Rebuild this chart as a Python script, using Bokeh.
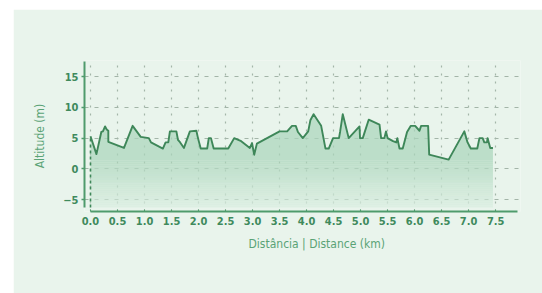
from bokeh.plotting import figure
from bokeh.models import FixedTicker, PrintfTickFormatter, Range1d, Spacer, Title
from bokeh.layouts import row, column
from bokeh.embed import file_html
from bokeh.resources import INLINE
import numpy as np

# ---- data ----
dist = [0.0, 0.11, 0.20, 0.23, 0.27, 0.30, 0.33, 0.33, 0.62, 0.78, 0.93, 1.08, 1.12,
        1.34, 1.39, 1.44, 1.47, 1.59, 1.62, 1.66, 1.73, 1.84, 1.96, 1.99, 2.04, 2.16,
        2.19, 2.23, 2.28, 2.55, 2.66, 2.79, 2.95, 2.99, 3.03, 3.08, 3.50, 3.64, 3.73,
        3.80, 3.84, 3.93, 4.03, 4.07, 4.13, 4.27, 4.35, 4.41, 4.49, 4.60, 4.62, 4.67,
        4.78, 4.98, 4.99, 5.04, 5.08, 5.15, 5.35, 5.38, 5.44, 5.47, 5.50, 5.60, 5.66,
        5.68, 5.72, 5.78, 5.86, 5.93, 6.01, 6.09, 6.12, 6.25, 6.27, 6.63, 6.92, 6.98,
        7.04, 7.16, 7.20, 7.26, 7.29, 7.34, 7.35, 7.40, 7.45]
alt = [5.3, 2.4, 6.0, 6.1, 6.9, 6.4, 6.2, 4.4, 3.4, 7.0, 5.2, 5.0, 4.3,
       3.3, 4.3, 4.3, 6.1, 6.1, 4.7, 4.3, 3.4, 6.1, 6.2, 5.0, 3.3, 3.3,
       5.0, 5.0, 3.3, 3.3, 5.0, 4.5, 3.4, 4.2, 2.3, 4.1, 6.1, 6.1, 7.0,
       7.0, 6.0, 5.0, 6.1, 7.9, 8.9, 7.0, 3.3, 3.3, 5.0, 5.0, 6.0, 8.9,
       5.0, 6.9, 5.0, 5.0, 6.1, 8.0, 7.2, 5.0, 5.0, 6.1, 5.0, 4.5, 4.3,
       5.0, 3.3, 3.3, 6.0, 7.0, 7.0, 6.2, 7.0, 7.0, 2.3, 1.5, 6.1, 4.3,
       3.3, 3.3, 5.0, 5.0, 4.3, 4.3, 5.0, 3.4, 3.4]

x_ticks = [0.0, 0.5, 1.0, 1.5, 2.0, 2.5, 3.0, 3.5, 4.0, 4.5, 5.0, 5.5, 6.0, 6.5, 7.0, 7.5]
y_ticks = [-5, 0, 5, 10, 15]
x_title = "Distância  |  Distance (km)"
y_title = "Altitude (m)"

BG = "#e9f4ec"
LINE = "#3e8759"
AXIS = "#4f9b6c"
TICKTXT = "#3f8a5c"
TITLETXT = "#5aa376"
GRID = "#a3b5a8"
FILL_TOP = np.array([0xab, 0xd6, 0xbb])
FILL_BOT = np.array([0xd9, 0xed, 0xe0])
FILL_ALPHA = 0.72
FONT = "DejaVu Sans Condensed"

y_floor = -6.3
y_bounds = (-6.3, 17.5)
x_bounds = (0.0, 7.9)

p = figure(width=529, height=284,
           x_range=Range1d(-0.111, 7.96), y_range=Range1d(-6.95, 17.64),
           output_backend="svg", toolbar_location=None,
           min_border_left=71, min_border_right=22,
           min_border_top=51, min_border_bottom=82)
p.background_fill_color = BG
p.border_fill_color = BG
p.outline_line_color = None

xs = np.array(dist)
ys = np.array(alt)

# area fill: solid upper part + gradient bands towards the bottom
grad_top = 1.4
p.varea(x=xs, y1=np.full_like(xs, grad_top), y2=ys,
        fill_color="#%02x%02x%02x" % tuple(FILL_TOP), fill_alpha=FILL_ALPHA)
n = 24
edges = np.linspace(y_floor, grad_top, n + 1)
for i in range(n):
    t = (i + 0.5) / n
    c = FILL_BOT + (FILL_TOP - FILL_BOT) * t
    col = "#%02x%02x%02x" % tuple(int(round(v)) for v in c)
    p.varea(x=xs, y1=np.full_like(xs, edges[i]), y2=np.full_like(xs, edges[i + 1]),
            fill_color=col, fill_alpha=FILL_ALPHA)

# dashed left edge of the profile
p.segment(x0=[xs[0]], y0=[y_floor], x1=[xs[0]], y1=[ys[0]],
          line_color=LINE, line_width=1.6, line_dash="3 3")

p.line(xs, ys, line_color=LINE, line_width=1.9, line_join="round")

# grids
p.xgrid.ticker = FixedTicker(ticks=x_ticks)
p.ygrid.ticker = FixedTicker(ticks=y_ticks)
p.xgrid.grid_line_color = GRID
p.xgrid.grid_line_dash = "2 6"
p.xgrid.grid_line_width = 1.2
p.ygrid.grid_line_color = GRID
p.ygrid.grid_line_dash = "4 6"
p.ygrid.grid_line_width = 1.2

# axes
xa = p.xaxis[0]
xa.ticker = FixedTicker(ticks=x_ticks)
xa.formatter = PrintfTickFormatter(format="%.1f")
xa.bounds = x_bounds
xa.axis_line_color = AXIS
xa.axis_line_width = 2
xa.major_tick_line_color = AXIS
xa.major_tick_in = 2
xa.major_tick_out = 0
xa.minor_tick_line_color = None
xa.major_label_standoff = 5
xa.major_label_text_font = FONT
xa.major_label_text_font_size = "11px"
xa.major_label_text_font_style = "bold"
xa.major_label_text_color = TICKTXT

# x title placed below the axis, offset to sit under the profile as in the reference
p.add_layout(Title(text=x_title, align="left", offset=164, standoff=15,
                   text_font=FONT, text_font_size="12px",
                   text_font_style="normal", text_color=TITLETXT), "below")

ya = p.yaxis[0]
ya.ticker = FixedTicker(ticks=y_ticks)
ya.bounds = y_bounds
ya.axis_line_color = AXIS
ya.axis_line_width = 2
ya.major_tick_line_color = AXIS
ya.major_tick_line_width = 1.5
ya.major_tick_out = 3
ya.major_tick_in = 0
ya.minor_tick_line_color = None
ya.major_label_standoff = 3
ya.major_label_text_font = FONT
ya.major_label_text_font_size = "11px"
ya.major_label_text_font_style = "bold"
ya.major_label_text_color = TICKTXT
ya.axis_label = y_title
ya.axis_label_text_font = FONT
ya.axis_label_text_font_size = "12px"
ya.axis_label_text_font_style = "normal"
ya.axis_label_text_color = TITLETXT
ya.axis_label_standoff = 13

layout = row(Spacer(width=13), column(Spacer(height=9), p))
open("out.html", "w").write(file_html(layout, INLINE))
